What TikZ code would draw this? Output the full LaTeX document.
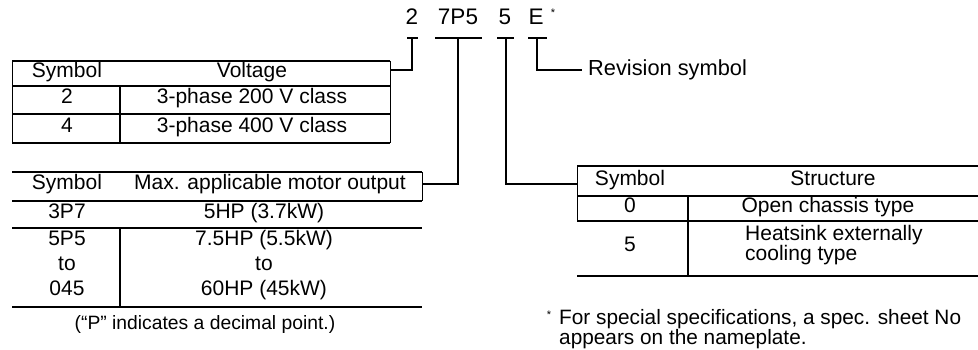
\documentclass[tikz,border=0pt]{standalone}
\usepackage{fontspec}
\setmainfont{Liberation Sans}
\begin{document}
\begin{tikzpicture}[x=1pt,y=-1pt,
  font=\fontsize{21}{23}\selectfont,
  rule/.style={line width=1.4pt},
  headrule/.style={line width=2.2pt},
  edge/.style={line width=0.9pt},
  conn/.style={line width=1.3pt},
  txt/.style={inner sep=0pt, anchor=mid},
  codetxt/.style={inner sep=0pt, anchor=mid, font=\fontsize{22.5}{24}\selectfont}]
\useasboundingbox (0,0) rectangle (978,350);

% ---- model code ----
\node[codetxt] (c2) at (412,22) {2};
\node[codetxt] (c7) at (458,22) {7P5};
\node[codetxt] (c5) at (505,22) {5};
\node[codetxt] (cE) at (536,22) {E};
\node[txt, font=\fontsize{11}{11}\selectfont] (cs) at (553,14) {*};

\coordinate (u2) at (412,38);
\coordinate (u7) at (458,38);
\coordinate (u5) at (506,38);
\coordinate (uE) at (537,38);
\draw[conn] (407,38) -- (418,38);
\draw[conn] (435,38) -- (482,38);
\draw[conn] (497,38) -- (514,38);
\draw[conn] (528,38) -- (547,38);

% ---- voltage table ----
\draw[rule] (12,61) -- (390,61);
\draw[headrule] (12,86) -- (390,86);
\draw[rule] (12,114) -- (390,114);
\draw[rule] (12,143) -- (390,143);
\draw[edge] (12,61) -- (12,143);
\draw[edge] (390,61) -- (390,143);
\draw[rule] (120,86) -- (120,143);
\coordinate (vR) at (390,70);
\node[txt] (vh1) at (67,75) {Symbol};
\node[txt] (vh2) at (252,75) {Voltage};
\node[txt] (v21) at (67,101) {2};
\node[txt] (v22) at (252,101) {3-phase 200 V class};
\node[txt] (v41) at (67,130) {4};
\node[txt] (v42) at (252,130) {3-phase 400 V class};

% ---- motor output table ----
\draw[rule] (12,172) -- (422,172);
\draw[headrule] (12,201) -- (422,201);
\draw[rule] (12,228) -- (422,228);
\draw[rule] (12,307) -- (422,307);
\draw[edge] (422,172) -- (422,201);
\draw[rule] (120,228) -- (120,307);
\coordinate (mR) at (422,184);
\node[txt] (mh1) at (67,187) {Symbol};
\node[txt] (mh2) at (270,187) {Max. applicable motor output};
\node[txt] (m11) at (67,216) {3P7};
\node[txt] (m12) at (264,216) {5HP (3.7kW)};
\node[txt] (m21) at (67,243) {5P5};
\node[txt] (m22) at (264,243) {7.5HP (5.5kW)};
\node[txt] (m31) at (67,268) {to};
\node[txt] (m32) at (264,268) {to};
\node[txt] (m41) at (67,293) {045};
\node[txt] (m42) at (264,293) {60HP (45kW)};
\node[txt, font=\fontsize{19.3}{20}\selectfont] (mnote) at (205,327) {(``P'' indicates a decimal point.)};

% ---- structure table ----
\draw[rule] (577,166) -- (978,166);
\draw[headrule] (577,196) -- (978,196);
\draw[rule] (577,221) -- (978,221);
\draw[rule] (577,276) -- (978,276);
\draw[edge] (577,166) -- (577,221);
\draw[rule] (688,196) -- (688,276);
\coordinate (sL) at (577,184);
\node[txt] (sh1) at (630,183) {Symbol};
\node[txt] (sh2) at (833,183) {Structure};
\node[txt] (s01) at (630,210) {0};
\node[txt] (s02) at (828,210) {Open chassis type};
\node[txt] (s51) at (630,249) {5};
\node[inner sep=0pt, anchor=west, align=left, font=\fontsize{21}{18.5}\selectfont] (s52) at (745,245) {Heatsink externally\\cooling type};

% ---- revision symbol ----
\node[inner sep=0pt, anchor=west, font=\fontsize{21.8}{23}\selectfont] (rev) at (588,70) {Revision symbol};
\coordinate (rE) at (582,70);

% ---- connectors ----
\draw[conn] (u2) |- (vR);
\draw[conn] (u7) |- (mR);
\draw[conn] (u5) |- (sL);
\draw[conn] (uE) |- (rE);

% ---- footnote ----
\node[txt, font=\fontsize{11}{11}\selectfont] (fs) at (549,316) {*};
\node[inner sep=0pt, anchor=west, align=left, font=\fontsize{20.8}{16.5}\selectfont] (fn) at (559,329) {For special specifications, a spec. sheet No\\appears on the nameplate.};
\end{tikzpicture}
\end{document}
